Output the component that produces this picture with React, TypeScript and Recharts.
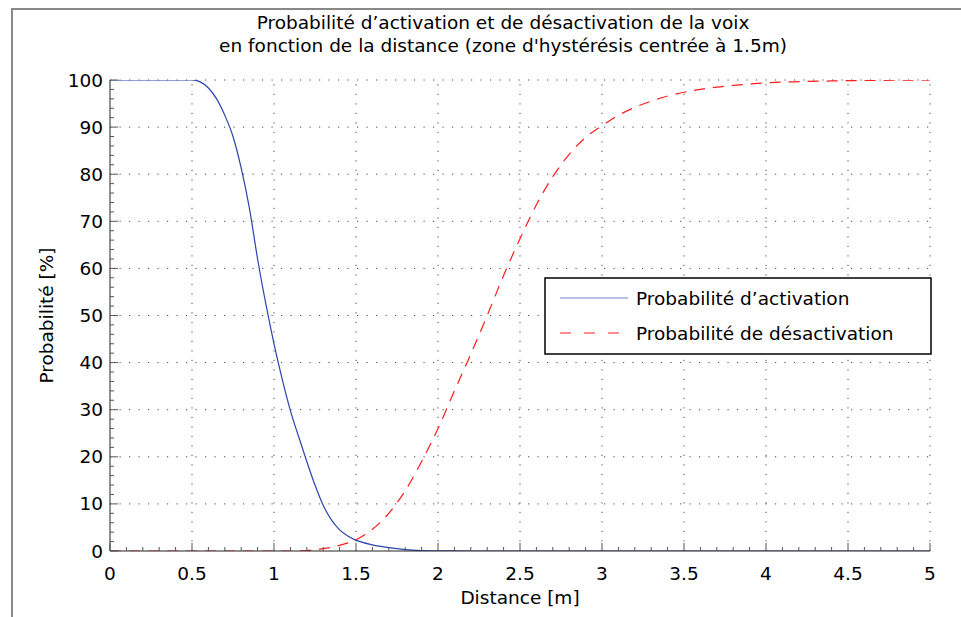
import React from 'react';
import { LineChart, Line, XAxis, YAxis, ReferenceLine } from 'recharts';

// distance [m] / probability [%]
const activationX = [0, 0.5, 0.55, 0.6, 0.65, 0.7, 0.75, 0.8, 0.85, 0.9, 0.95, 1.0, 1.05, 1.1, 1.15, 1.2, 1.25, 1.3, 1.35, 1.4, 1.45, 1.5, 1.6, 1.7, 1.8, 1.9, 2.0, 2.2, 5];
const activationPct = [100, 100, 99.6, 98.3, 96, 92.5, 88, 81.3, 72.8, 62, 52.5, 44, 36.5, 29.8, 24.3, 19, 14, 9.7, 6.6, 4.5, 3.2, 2.3, 1.3, 0.7, 0.3, 0.1, 0.03, 0, 0];

const deactivationX = [0, 1.1, 1.2, 1.3, 1.4, 1.5, 1.6, 1.7, 1.8, 1.9, 2.0, 2.1, 2.2, 2.3, 2.4, 2.5, 2.6, 2.7, 2.8, 2.9, 3.0, 3.1, 3.2, 3.3, 3.4, 3.5, 3.6, 3.7, 3.8, 3.9, 4.0, 4.2, 4.4, 4.6, 4.8, 5.0];
const deactivationPct = [0, 0, 0.1, 0.5, 1.2, 2.4, 4.6, 8.0, 12.8, 19, 26, 34, 41.8, 50, 58.5, 66.3, 73.5, 79.5, 84.2, 87.8, 90.3, 92.5, 94.2, 95.5, 96.6, 97.4, 98, 98.5, 98.85, 99.15, 99.4, 99.65, 99.8, 99.9, 99.95, 100];

const xMajorTicks = [0, 0.5, 1, 1.5, 2, 2.5, 3, 3.5, 4, 4.5, 5];
const yMajorTicks = [0, 10, 20, 30, 40, 50, 60, 70, 80, 90, 100];
// minor ticks (MATLAB style)
const xTicks = Array.from({ length: 51 }, (_, i) => i / 10);
const yTicks = Array.from({ length: 51 }, (_, i) => i * 2);

const activationData = activationX.map((x, i) => ({ x, p: activationPct[i] }));
const deactivationData = deactivationX.map((x, i) => ({ x, p: deactivationPct[i] }));

const FONT = '"DejaVu Sans", sans-serif';
const FS = 18.5;
const BLUE = '#2a44ad';
const RED = '#ff1c1c';
const GAP = 7;

function YTick(props: any) {
    const { x, y, payload } = props;
    const v = payload.value;
    const major = v % 10 === 0;
    const ax = x + GAP;
    return (
        <g>
            <line x1={ax} x2={ax + (major ? 8 : 4)} y1={y} y2={y} stroke="#555" />
            {major && (
                <text x={x} y={y} dy="0.355em" textAnchor="end" fill="#000" fontSize={FS} fontFamily={FONT}>
                    {v}
                </text>
            )}
        </g>
    );
}

function XTick(props: any) {
    const { x, y, payload } = props;
    const v = payload.value;
    const major = Math.round(v * 10) % 5 === 0;
    const ay = y - GAP;
    return (
        <g>
            <line x1={x} x2={x} y1={ay} y2={ay - (major ? 8 : 4)} stroke="#555" />
            {major && (
                <text x={x} y={y + 9} dy="0.71em" textAnchor="middle" fill="#000" fontSize={FS} fontFamily={FONT}>
                    {v}
                </text>
            )}
        </g>
    );
}

function YLabel(props: any) {
    const vb = props.viewBox;
    const cx = 46;
    const cy = vb.y + vb.height / 2;
    return (
        <text x={cx} y={cy} dy="0.355em" textAnchor="middle" transform={`rotate(-90 ${cx} ${cy})`} fontSize={FS} fontFamily={FONT} fill="#000">
            Probabilité [%]
        </text>
    );
}

function LegendBox() {
    return (
        <svg width={389} height={79} style={{ position: 'absolute', left: 544, top: 277 }}>
            <rect x={1} y={1} width={386} height={76} fill="#fff" stroke="#000" strokeWidth={1.5} />
            <line x1={16} x2={84} y1={21} y2={21} stroke="#7283c4" strokeWidth={1.2} />
            <text x={92} y={21} dy="0.355em" fontSize={FS} fontFamily={FONT} fill="#000">Probabilité d’activation</text>
            <line x1={16} x2={80} y1={56} y2={56} stroke={RED} strokeWidth={1.2} strokeDasharray="11 13" />
            <text x={92} y={56} dy="0.355em" fontSize={FS} fontFamily={FONT} fill="#000">Probabilité de désactivation</text>
        </svg>
    );
}

export default function App() {
    return (
        <div style={{ position: 'absolute', left: 0, top: 0, width: 961, height: 617, background: '#fff', fontFamily: FONT }}>
            <div style={{ position: 'absolute', left: 11, top: 8, width: 950, height: 609, borderTop: '2px solid #888', borderLeft: '2px solid #888' }} />
            <div style={{ position: 'absolute', left: 0, top: 11, width: 1006, textAlign: 'center', fontSize: FS, lineHeight: '23px', color: '#000' }}>
                Probabilité d’activation et de désactivation de la voix
                <br />
                en fonction de la distance (zone d'hystérésis centrée à 1.5m)
            </div>
            <div style={{ position: 'absolute', left: 0, top: 0 }}>
                <LineChart width={961} height={617} margin={{ top: 80, right: 31, bottom: 16, left: 50 }}>
                    <XAxis
                        dataKey="x"
                        type="number"
                        domain={[0, 5]}
                        ticks={xTicks}
                        interval={0}
                        tickSize={0}
                        tickMargin={GAP}
                        tick={<XTick />}
                        height={50}
                        axisLine={{ stroke: '#222' }}
                        allowDataOverflow
                        label={{ value: 'Distance [m]', position: 'insideBottom', offset: -3, fontSize: FS, fontFamily: FONT, fill: '#000' }}
                    />
                    <YAxis
                        dataKey="p"
                        type="number"
                        domain={[0, 100]}
                        ticks={yTicks}
                        interval={0}
                        tickSize={0}
                        tickMargin={GAP}
                        tick={<YTick />}
                        width={60}
                        axisLine={{ stroke: '#222' }}
                        allowDataOverflow
                        label={<YLabel />}
                    />
                    {xMajorTicks.slice(1).map((v) => (
                        <ReferenceLine key={'x' + v} x={v} stroke="#444" strokeDasharray="1.2 8.3" />
                    ))}
                    {yMajorTicks.slice(1).map((v) => (
                        <ReferenceLine key={'y' + v} y={v} stroke="#444" strokeDasharray="1.2 8.3" />
                    ))}
                    <Line
                        data={activationData}
                        dataKey="p"
                        type="monotone"
                        stroke={BLUE}
                        strokeWidth={1.2}
                        dot={false}
                        isAnimationActive={false}
                        name="Probabilité d’activation"
                    />
                    <Line
                        data={deactivationData}
                        dataKey="p"
                        type="monotone"
                        stroke={RED}
                        strokeWidth={1.2}
                        strokeDasharray="11 8"
                        dot={false}
                        isAnimationActive={false}
                        name="Probabilité de désactivation"
                    />
                </LineChart>
            </div>
            <LegendBox />
        </div>
    );
}
